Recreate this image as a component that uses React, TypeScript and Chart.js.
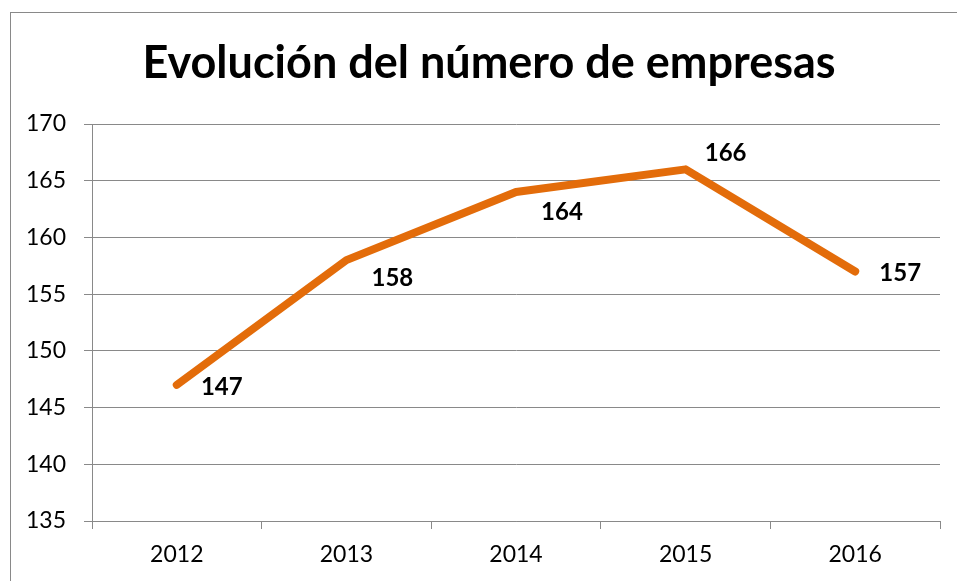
import React, { useEffect, useRef } from "react";
import { Chart, registerables } from "chart.js";

Chart.register(...registerables);

const categories = ["2012", "2013", "2014", "2015", "2016"];
const empresas = [147, 158, 164, 166, 157];
const yTicks = { min: 135, max: 170, step: 5 };
const titleText = "Evolución del número de empresas";

// label offsets (style only) relative to each point
const labelOffsets = [
  { dx: 45, dy: 2 },
  { dx: 46, dy: 18 },
  { dx: 46, dy: 20 },
  { dx: 40, dy: -16 },
  { dx: 45, dy: 2 },
];

const LINE_COLOR = "#E36C0A";
const GRID_COLOR = "#898989";
const FONT = "Lato, 'Noto Sans', sans-serif";

const decorPlugin = {
  id: "decor",
  beforeDraw(chart: any) {
    const ctx = chart.ctx;
    ctx.save();
    ctx.fillStyle = "#ffffff";
    ctx.fillRect(0, 0, chart.width, chart.height);
    ctx.strokeStyle = GRID_COLOR;
    ctx.lineWidth = 1;
    ctx.strokeRect(10.5, 12.5, chart.width + 20, chart.height + 20);
    ctx.fillStyle = "#000000";
    ctx.font = `bold 45px ${FONT}`;
    ctx.textAlign = "center";
    ctx.textBaseline = "alphabetic";
    ctx.fillText(titleText, 489, 78);
    ctx.restore();
  },
  afterDatasetsDraw(chart: any) {
    const ctx = chart.ctx;
    const meta = chart.getDatasetMeta(0);
    ctx.save();
    ctx.fillStyle = "#000000";
    ctx.font = `bold 24px ${FONT}`;
    ctx.textAlign = "center";
    ctx.textBaseline = "middle";
    meta.data.forEach((pt: any, i: number) => {
      const off = labelOffsets[i] || { dx: 0, dy: 0 };
      ctx.fillText(String(empresas[i]), pt.x + off.dx, pt.y + off.dy);
    });
    ctx.restore();
  },
};

export default function App() {
  const ref = useRef<HTMLCanvasElement | null>(null);
  useEffect(() => {
    document.body.style.margin = "0";
    if (!ref.current) return;
    const chart = new Chart(ref.current, {
      type: "line",
      data: {
        labels: categories,
        datasets: [
          {
            data: empresas,
            borderColor: LINE_COLOR,
            borderWidth: 8,
            borderCapStyle: "round",
            borderJoinStyle: "round",
            pointRadius: 0,
            tension: 0,
            fill: false,
          },
        ],
      },
      options: {
        responsive: false,
        animation: false,
        devicePixelRatio: 1,
        layout: { padding: { top: 124, right: 17, left: 0, bottom: 0 } },
        plugins: {
          legend: { display: false },
          title: { display: false },
          tooltip: { enabled: false },
        },
        scales: {
          x: {
            type: "category",
            offset: true,
            grid: {
              offset: true,
              drawOnChartArea: false,
              drawTicks: true,
              tickLength: 8,
              color: GRID_COLOR,
            },
            border: { display: true, color: GRID_COLOR, width: 1 },
            ticks: {
              color: "#000000",
              font: { family: FONT, size: 23 },
              padding: 12,
              maxRotation: 0,
            },
            afterFit(scale: any) {
              scale.height = 60;
            },
          },
          y: {
            min: yTicks.min,
            max: yTicks.max,
            grid: {
              color: GRID_COLOR,
              drawTicks: true,
              tickLength: 8,
            },
            border: { display: true, color: GRID_COLOR, width: 1 },
            ticks: {
              stepSize: yTicks.step,
              color: "#000000",
              font: { family: FONT, size: 23 },
              padding: 18,
            },
            afterFit(scale: any) {
              scale.width = 92;
            },
          },
        },
      },
      plugins: [decorPlugin],
    } as any);
    return () => chart.destroy();
  }, []);
  return <canvas ref={ref} width={957} height={581} style={{ display: "block" }} />;
}
